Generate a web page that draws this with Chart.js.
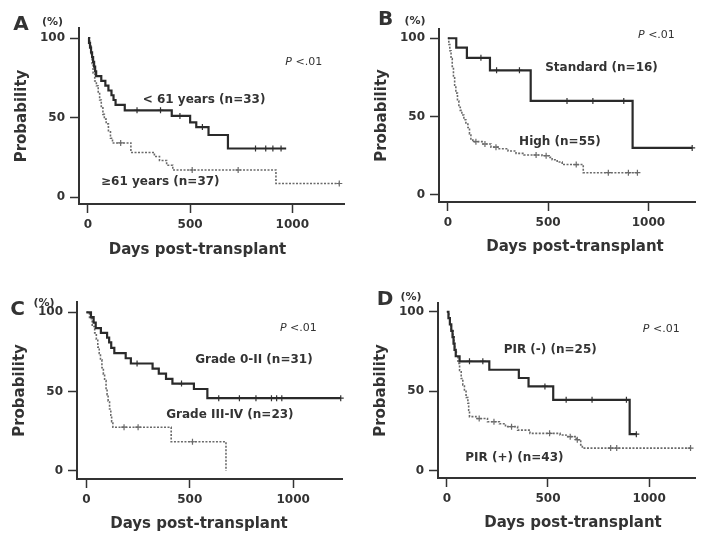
<!DOCTYPE html>
<html>
<head>
<meta charset="utf-8">
<script src="https://cdn.jsdelivr.net/npm/chart.js@4.4.1/dist/chart.umd.min.js"></script>
<style>
  body { margin: 0; background: #fff; }
  #wrap { position: relative; width: 701px; height: 533px; overflow: hidden; }
  #wrap canvas { position: absolute; }
</style>
</head>
<body>
<div id="wrap"></div>
<script>
// axis ticks + shared text
const xTicks = [0, 500, 1000];
const yTicks = [0, 50, 100];
const panelLetters = ['A', 'B', 'C', 'D'];
const yTitle = 'Probability';
const xTitle = 'Days post-transplant';
const pText = '<.01';

// A - age  [day, survival %]
const ageYoungLabel = '< 61 years (n=33)';
const ageOldLabel = '≥61 years (n=37)';
const ageYoung = [[0,100],[5,97],[10,94],[15,91],[20,88],[25,85],[30,82],[35,79],[40,76],[65,73],[85,70],[100,67],[115,64],[125,61],[135,58],[180,54.5],[410,51],[500,47],[530,44],[590,39],[685,30.5],[970,30.5]];
const ageYoungCens = [[240,54.5],[355,54.5],[450,51],[560,44],[820,30.5],[870,30.5],[905,30.5],[945,30.5]];
const ageOld = [[0,100],[8,95],[15,89],[20,84],[25,78],[33,73],[41,70],[50,65],[57,61],[65,57],[73,52],[80,49],[89,46],[100,41],[110,37],[120,34],[210,28],[325,25.5],[350,23],[385,20],[415,17],[920,8.5],[1230,8.5]];
const ageOldCens = [[160,34],[510,17],[735,17],[1230,8.5]];

// B - risk
const riskStdLabel = 'Standard (n=16)';
const riskHighLabel = 'High (n=55)';
const riskStd = [[0,100],[42,94],[95,87.5],[210,79.5],[413,60],[921,30],[1218,30]];
const riskStdCens = [[165,87.5],[243,79.5],[357,79.5],[594,60],[723,60],[877,60],[1218,30]];
const riskHigh = [[0,100],[5,96],[10,92],[16,87],[22,82],[28,76],[34,70],[40,65],[48,60],[55,56],[62,54],[70,51],[80,48],[90,46],[100,43],[108,39],[115,35],[125,34],[175,32.5],[215,30.5],[250,29.5],[300,28],[340,26.5],[380,25.5],[470,25],[505,24],[520,22.5],[545,21],[570,19.4],[675,14.2],[950,14.2]];
const riskHighCens = [[140,34],[185,32.5],[240,30.5],[440,25.5],[490,25],[640,19.4],[800,14.2],[900,14.2],[945,14.2]];

// C - GVHD grade
const gradeLowLabel = 'Grade 0-II (n=31)';
const gradeHighLabel = 'Grade III-IV (n=23)';
const gradeLow = [[0,100],[22,97],[35,93.5],[45,90],[70,87],[100,84],[110,81],[120,77.5],[135,74.2],[190,71],[215,67.7],[320,64.5],[350,61.3],[385,58],[416,55],[520,51.6],[585,45.8],[1230,45.8]];
const gradeLowCens = [[245,67.7],[460,55],[640,45.8],[740,45.8],[820,45.8],[895,45.8],[920,45.8],[945,45.8],[1230,45.8]];
const gradeHigh = [[0,100],[15,96],[28,91],[40,87],[48,83],[55,78],[62,74],[68,70],[75,65],[82,61],[88,57],[95,52],[100,48],[105,44],[112,39],[118,35],[122,31],[128,27.5],[410,18.3],[675,0]];
const gradeHighCens = [[182,27.5],[250,27.5],[513,18.3]];

// D - PIR
const pirNegLabel = 'PIR (-) (n=25)';
const pirPosLabel = 'PIR (+) (n=43)';
const pirNeg = [[0,100],[8,96],[15,92],[22,88],[28,84],[33,80],[38,76],[44,72],[63,68.8],[210,63.5],[356,58.3],[404,53],[526,44.6],[904,23],[937,23]];
const pirNegCens = [[112,68.8],[178,68.8],[485,53],[590,44.6],[718,44.6],[888,44.6],[937,23]];
const pirPos = [[0,100],[10,95],[15,91],[22,88],[31,85],[36,80],[39,76],[47,72],[55,67.5],[63,63],[71,58],[79,54],[87,50.8],[95,46],[104,42.4],[108,38],[112,34],[144,32.8],[201,30.8],[260,29.5],[290,27.7],[350,25.5],[411,23.5],[560,22.5],[589,21.4],[640,19.5],[662,16.2],[670,14.2],[1205,14.2]];
const pirPosCens = [[160,32.8],[233,30.8],[320,27.7],[508,23.5],[610,21.4],[645,19.5],[810,14.2],[840,14.2],[1205,14.2]];

const FONT = "'DejaVu Sans', sans-serif";
const INK = '#333';
const DOT = '#6a6a6a';

// layout of each panel (canvas box, scale ranges, where the notes go)
const panels = [
  { letter: panelLetters[0], box: [0, 0, 350, 262], yW: 79, xH: 58, padR: 3, xr: [-44, 1257], yr: [-4.4, 106.3],
    solid: ageYoung, solidCens: ageYoungCens, dashed: ageOld, dashedCens: ageOldCens,
    letterAt: [-58, -3], pctAt: [-26.5, -6], titleAt: [118.5, 46.5], pAt: [966, 85],
    notes: [[ageYoungLabel, 568, 61], [ageOldLabel, 354, 9.4]] },
  { letter: panelLetters[1], box: [360, 1, 341, 262], yW: 79, xH: 61, padR: 0, xr: [-44, 1236], yr: [-4.5, 105.9],
    solid: riskStd, solidCens: riskStdCens, dashed: riskHigh, dashedCens: riskHighCens,
    letterAt: [-53.5, -9], pctAt: [-24, -8], titleAt: [136, 45], pAt: [948, 102],
    notes: [[riskStdLabel, 766, 81], [riskHighLabel, 559, 34]] },
  { letter: panelLetters[2], box: [-2, 274, 350, 259], yW: 79, xH: 54, padR: 5, xr: [-45.5, 1240], yr: [-5.2, 106.5],
    solid: gradeLow, solidCens: gradeLowCens, dashed: gradeHigh, dashedCens: gradeHighCens,
    letterAt: [-59.5, 7.5], pctAt: [-33, 1], titleAt: [122, 45], pAt: [936, 90],
    notes: [[gradeLowLabel, 810, 70], [gradeHighLabel, 694, 35]] },
  { letter: panelLetters[3], box: [359, 275, 342, 258], yW: 79, xH: 55, padR: 0, xr: [-43.7, 1231], yr: [-4.6, 105.5],
    solid: pirNeg, solidCens: pirNegCens, dashed: pirPos, dashedCens: pirPosCens,
    letterAt: [-53, -3], pctAt: [-27, -5.5], titleAt: [135, 45], pAt: [969, 89],
    notes: [[pirNegLabel, 511, 76], [pirPosLabel, 334, 8]] }
];

function pairs(list) {
  return list.map(p => ({ x: p[0], y: p[1] }));
}

function notesPlugin(p) {
  return {
    id: 'notes',
    afterDraw(chart) {
      const ctx = chart.ctx, area = chart.chartArea;
      const sx = chart.scales.x, sy = chart.scales.y;
      ctx.save();
      ctx.fillStyle = INK;
      ctx.textAlign = 'center';
      ctx.textBaseline = 'middle';
      ctx.font = 'bold 20px ' + FONT;
      ctx.fillText(p.letter, area.left + p.letterAt[0], area.top + p.letterAt[1]);
      ctx.font = 'bold 11px ' + FONT;
      ctx.fillText('(%)', area.left + p.pctAt[0], area.top + p.pctAt[1]);
      ctx.font = 'bold 15px ' + FONT;
      ctx.fillText(xTitle, area.left + p.titleAt[0], area.bottom + p.titleAt[1]);
      ctx.font = 'bold 12px ' + FONT;
      p.notes.forEach(n => ctx.fillText(n[0], sx.getPixelForValue(n[1]), sy.getPixelForValue(n[2])));
      // P value, P in italics
      const px = sx.getPixelForValue(p.pAt[0]), py = sy.getPixelForValue(p.pAt[1]);
      ctx.textAlign = 'left';
      ctx.font = 'italic 11px ' + FONT;
      const pw = ctx.measureText('P ').width;
      ctx.fillText('P ', px, py);
      ctx.font = '11px ' + FONT;
      ctx.fillText(pText, px + pw, py);
      ctx.restore();
    }
  };
}

function axisBase(ticks) {
  return {
    type: 'linear',
    afterBuildTicks: s => { s.ticks = ticks.map(v => ({ value: v })); },
    grid: { display: true, drawOnChartArea: false, drawTicks: true, tickLength: 9, tickWidth: 1.5, tickColor: INK },
    border: { display: true, color: INK, width: 2 },
    ticks: { color: INK, padding: 5, font: { family: FONT, size: 12, weight: 'bold' }, callback: v => String(v) }
  };
}

const wrap = document.getElementById('wrap');

panels.forEach((p, i) => {
  const cv = document.createElement('canvas');
  cv.width = p.box[2];
  cv.height = p.box[3];
  cv.style.left = p.box[0] + 'px';
  cv.style.top = p.box[1] + 'px';
  wrap.appendChild(cv);

  const xs = axisBase(xTicks);
  xs.min = p.xr[0];
  xs.max = p.xr[1];
  xs.afterFit = s => { s.height = p.xH; };

  const ys = axisBase(yTicks);
  ys.min = p.yr[0];
  ys.max = p.yr[1];
  ys.afterFit = s => { s.width = p.yW; };
  ys.title = { display: true, text: yTitle, color: INK, font: { family: FONT, size: 15, weight: 'bold' }, padding: { top: 13.5, bottom: 0 } };

  new Chart(cv, {
    type: 'line',
    data: {
      datasets: [
        { data: pairs(p.solid), stepped: true, borderColor: '#2a2a2a', borderWidth: 2.2, pointRadius: 0, fill: false },
        { data: pairs(p.solidCens), showLine: false, pointStyle: 'cross', pointRadius: 3, borderColor: INK, borderWidth: 1.2, clip: false },
        { data: pairs(p.dashed), stepped: true, borderColor: DOT, borderWidth: 1.6, borderDash: [2, 1.5], pointRadius: 0, fill: false },
        { data: pairs(p.dashedCens), showLine: false, pointStyle: 'cross', pointRadius: 3, borderColor: DOT, borderWidth: 1.2, clip: false }
      ]
    },
    options: {
      responsive: false,
      animation: false,
      layout: { padding: { top: 28, left: 0, right: p.padR, bottom: 0 } },
      plugins: { legend: { display: false }, tooltip: { enabled: false } },
      scales: { x: xs, y: ys }
    },
    plugins: [notesPlugin(p)]
  });
});
</script>
</body>
</html>
